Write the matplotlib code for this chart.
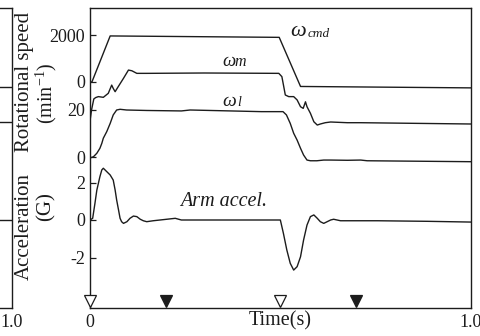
import matplotlib
matplotlib.use('Agg')
import matplotlib.pyplot as plt

plt.rcParams['font.family'] = ['Liberation Serif', 'DejaVu Serif']
plt.rcParams['mathtext.fontset'] = 'custom'
plt.rcParams['mathtext.rm'] = 'Liberation Serif'
plt.rcParams['mathtext.it'] = 'Liberation Serif:italic'

# ---------------- data ----------------
t_cmd = [0.0, 0.005, 0.053, 0.497, 0.553, 1.0]
w_cmd = [0, 0, 1960, 1900, -190, -250]          # min^-1

t_m = [0.0, 0.004, 0.010, 0.015, 0.022, 0.035, 0.048, 0.057, 0.061, 0.066,
       0.074, 0.088, 0.101, 0.110, 0.123, 0.149, 0.300, 0.496, 0.504, 0.509,
       0.513, 0.522, 0.535, 0.544, 0.553, 0.560, 0.566, 0.570, 0.579, 0.588,
       0.597, 0.605, 0.618, 0.632, 0.676, 0.711, 1.0]
w_m = [40, 510, 980, 1040, 1080, 1050, 1220, 1570, 1430, 1290,
       1500, 1860, 2210, 2180, 2070, 2070, 2085, 2070, 1930, 1500,
       1150, 1080, 1080, 940, 650, 580, 860, 650, 370, 10,
       -130, -85, -30, 0, -30, -30, -85]

t_l = [0.0, 0.009, 0.018, 0.026, 0.031, 0.035, 0.044, 0.053, 0.061, 0.070,
       0.079, 0.096, 0.149, 0.240, 0.263, 0.450, 0.507, 0.516, 0.526, 0.535,
       0.544, 0.553, 0.561, 0.570, 0.579, 0.596, 0.614, 0.632, 0.676, 0.711,
       0.728, 1.0]
w_l = [-40, 10, 160, 370, 580, 800, 1080, 1430, 1790, 2000,
       2030, 2000, 1980, 1960, 2000, 1930, 1930, 1790, 1430, 1010,
       720, 370, 85, -130, -160, -160, -130, -130, -140, -130,
       -160, -200]

t_acc = [0.0, 0.007, 0.013, 0.018, 0.026, 0.031, 0.035, 0.044, 0.053, 0.061,
         0.066, 0.070, 0.075, 0.079, 0.083, 0.088, 0.097, 0.105, 0.114, 0.123,
         0.132, 0.140, 0.149, 0.166, 0.184, 0.224, 0.240, 0.400, 0.500, 0.508,
         0.517, 0.526, 0.535, 0.544, 0.553, 0.561, 0.570, 0.579, 0.588, 0.597,
         0.605, 0.614, 0.623, 0.632, 0.640, 0.658, 0.693, 0.755, 0.798, 0.886,
         1.0]
acc = [0.0, 0.09, 0.89, 1.6, 2.31, 2.67, 2.76, 2.58, 2.4, 2.13,
       1.6, 1.07, 0.53, 0.09, -0.09, -0.18, -0.09, 0.09, 0.21, 0.18,
       0.04, -0.04, -0.09, -0.04, 0.0, 0.09, 0.0, 0.0, 0.0, -0.71,
       -1.6, -2.31, -2.67, -2.49, -1.96, -1.07, -0.27, 0.18, 0.27, 0.09,
       -0.09, -0.18, -0.09, 0.0, 0.04, -0.04, -0.04, -0.04, -0.05, -0.07,
       -0.11]

# trigger markers (time, filled?)
mark_t = [0.0, 0.2, 0.5, 0.7]
mark_filled = [False, True, False, True]

# left (cropped) neighbouring panel: end of its traces
t_left = [0.8, 1.0]
left_cmd = [-210, -210]
left_m = [0, 0]
left_acc = [0.0, 0.0]

cmd_ticks, cmd_labels = [0, 2000], ['0', '2000']
l_ticks, l_labels = [0, 2000], ['0', '20']
acc_ticks, acc_labels = [-2, 0, 2], ['-2', '0', '2']
x_ticks, x_labels = [0, 1.0], ['0', '1.0']

# ---------------- layout ----------------
W, H = 481, 336
INK = '#1c1c1c'
fig = plt.figure(figsize=(W / 100, H / 100), dpi=100)

TOP, BOT = 8.0, 307.5


def rect(x0, x1):
    return [x0 / W, 1 - BOT / H, (x1 - x0) / W, (BOT - TOP) / H]


def lims(zero_px, per_px):
    return ((zero_px - BOT) * per_px, (zero_px - TOP) * per_px)


W_PER_PX = 2000 / 47.0
G_PER_PX = 2 / 37.5

main_rect = rect(90, 470.7)
left_rect = rect(11.5 - 380.7, 11.5)


def overlay(r, sharex):
    a = fig.add_axes(r, sharex=sharex)
    a.set_facecolor('none')
    for s in a.spines.values():
        s.set_visible(False)
    a.xaxis.set_visible(False)
    return a


def base(r):
    a = fig.add_axes(r)
    for s in a.spines.values():
        s.set_linewidth(1.0)
        s.set_color(INK)
    a.set_xlim(0, 1.0)
    a.tick_params(axis='both', direction='in', length=4, width=0.9,
                  color=INK, labelsize=13, pad=3.5, labelcolor=INK)
    a.tick_params(axis='x', length=0, pad=5)
    return a


# main panel
ax = base(main_rect)
ax.set_ylim(*lims(220, G_PER_PX))
ax.plot(t_acc, acc, color=INK, lw=1.0)
ax.set_yticks(acc_ticks, acc_labels)
ax.set_xticks(x_ticks, x_labels)
for tm, f in zip(mark_t, mark_filled):
    ax.plot([tm], [0.021], marker='v', ms=9, mew=0.9, mec=INK,
            mfc=INK if f else 'white', transform=ax.get_xaxis_transform(),
            clip_on=False, zorder=5)

a_cmd = overlay(main_rect, ax)
a_cmd.set_ylim(*lims(82, W_PER_PX))
a_cmd.plot(t_cmd, w_cmd, color=INK, lw=1.0)
a_cmd.set_yticks(cmd_ticks, cmd_labels)
a_cmd.tick_params(axis='y', direction='in', length=4, width=0.9, color=INK,
                  labelsize=13, pad=3.5, labelcolor=INK)

a_m = overlay(main_rect, ax)
a_m.set_ylim(*lims(122, W_PER_PX))
a_m.plot(t_m, w_m, color=INK, lw=1.0)
a_m.set_yticks([])

a_l = overlay(main_rect, ax)
a_l.set_ylim(*lims(157, W_PER_PX))
a_l.plot(t_l, w_l, color=INK, lw=1.0)
a_l.set_yticks(l_ticks, l_labels)
a_l.tick_params(axis='y', direction='in', length=4, width=0.9, color=INK,
                labelsize=13, pad=3.5, labelcolor=INK)

# left cropped panel
axL = base(left_rect)
axL.set_ylim(*lims(220, G_PER_PX))
axL.plot(t_left, left_acc, color=INK, lw=1.0)
axL.set_yticks([])
axL.set_xticks([1.0], ['1.0'])
bL1 = overlay(left_rect, axL)
bL1.set_ylim(*lims(82, W_PER_PX))
bL1.plot(t_left, left_cmd, color=INK, lw=1.0)
bL1.set_yticks([])
bL2 = overlay(left_rect, axL)
bL2.set_ylim(*lims(122, W_PER_PX))
bL2.plot(t_left, left_m, color=INK, lw=1.0)
bL2.set_yticks([])


def ftext(x, y, s, **kw):
    kw.setdefault('color', INK)
    fig.text(x / W, 1 - y / H, s, **kw)


# axis titles
ftext(24.5, 82, 'Rotational speed', rotation=90, fontsize=15,
      ha='center', va='center')
ftext(46, 93, '(min$^{-1}$)', rotation=90, fontsize=14.5,
      ha='center', va='center')
ftext(24.5, 227, 'Acceleration', rotation=90, fontsize=15,
      ha='center', va='center')
ftext(46, 207, '(G)', rotation=90, fontsize=15, ha='center', va='center')
ftext(280, 321, 'Time(s)', fontsize=14.5, ha='center', va='center')

# trace labels
ftext(290, 32, '\u03c9', fontsize=16, style='italic', ha='left', va='center')
ftext(308, 34, 'cmd', fontsize=9.5, style='italic', ha='left', va='center')
ftext(222, 62, '\u03c9', fontsize=13.5, style='italic', ha='left', va='center')
ftext(234, 62.5, 'm', fontsize=11.5, style='italic', ha='left', va='center')
ftext(222, 101, '\u03c9', fontsize=14, style='italic', ha='left', va='center')
ftext(237.5, 103, 'l', fontsize=10, style='italic', ha='left', va='center')
ftext(180, 202, 'Arm accel.', fontsize=14.5, style='italic',
      ha='left', va='center')

fig.savefig('out.png', dpi=100)
